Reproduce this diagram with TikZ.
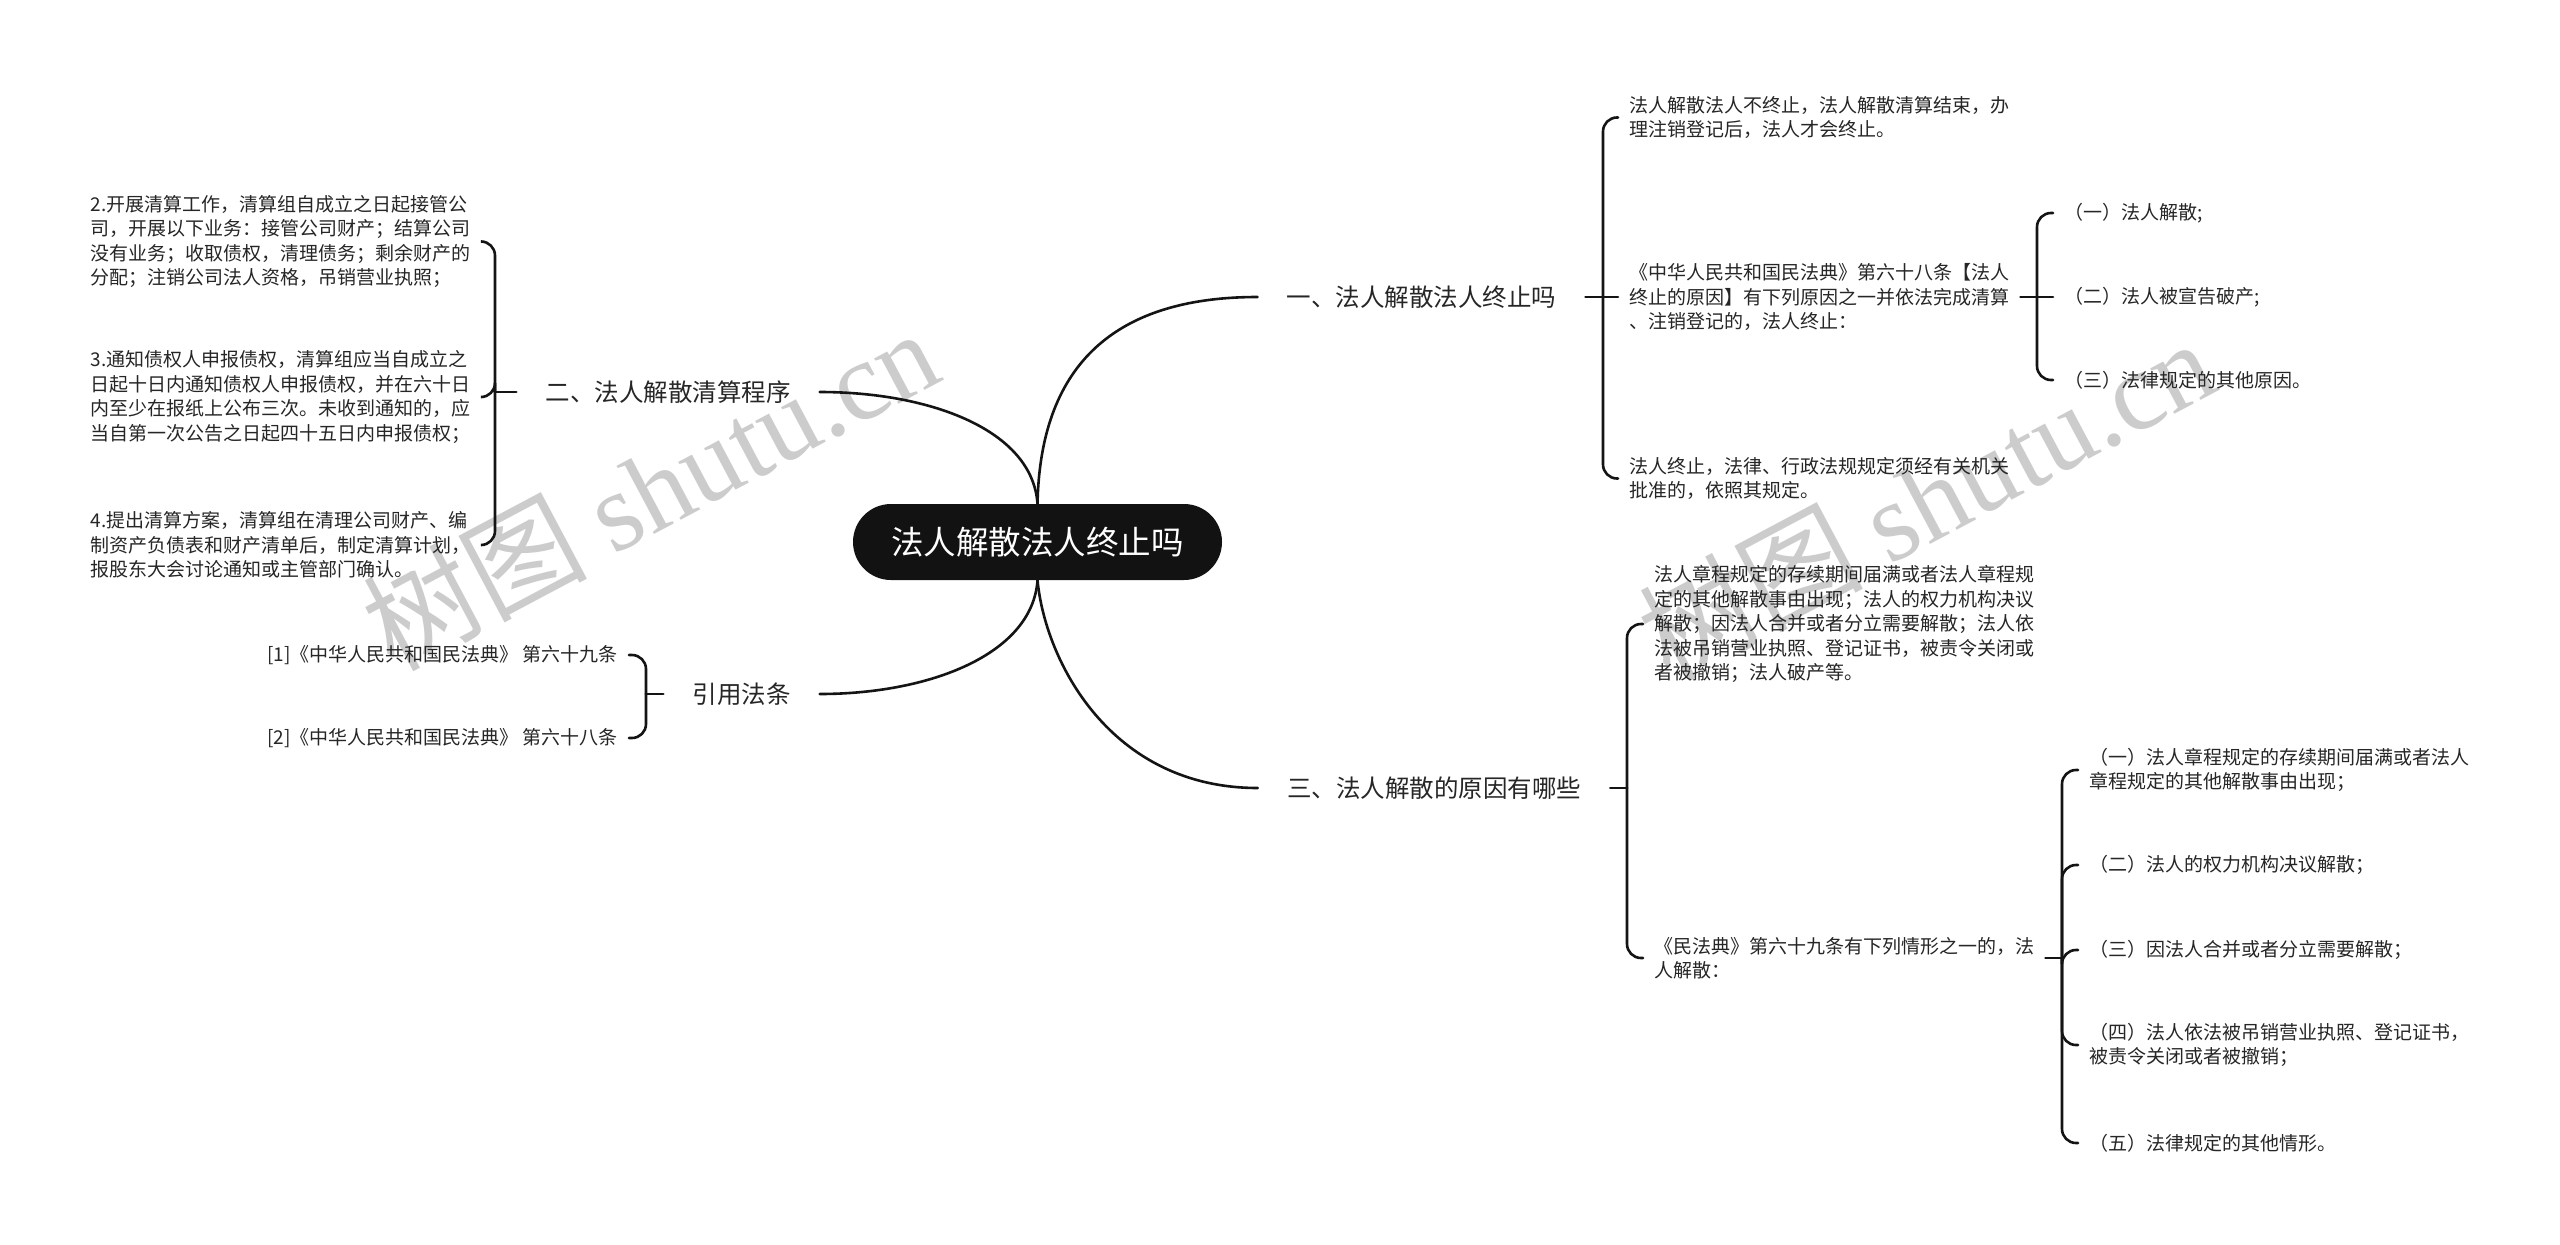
\documentclass[tikz,border=0pt]{standalone}
\usepackage{fontspec}
\setmainfont{Noto Sans CJK SC}
\newfontfamily\wmserif{Liberation Serif}
\usetikzlibrary{calc}
\tikzset{
  conn/.style={line width=2.6pt, draw=black!92, line cap=round},
  brk/.style={conn, rounded corners=14pt},
  branch/.style={font=\fontsize{24.5}{30}\selectfont, inner xsep=29pt, inner ysep=4pt, text=black!85},
  leaf/.style={font=\fontsize{19}{24.5}\selectfont, inner xsep=11pt, inner ysep=0pt, align=left, text=black!85},
  leafr/.style={leaf, align=right},
  rootnode/.style={fill=black!93, text=white, rounded corners=38pt, minimum width=369pt, minimum height=76pt, inner sep=0pt, font=\fontsize{32.5}{38}\selectfont},
  wm/.style={text=black!20, rotate=28, inner sep=0pt, font=\fontsize{112}{120}\selectfont}
}
\begin{document}
\begin{tikzpicture}[x=1pt,y=-1pt]
\useasboundingbox (0,0) rectangle (2560,1245);
\fill[white] (0,0) rectangle (2560,1245);
% watermarks
\node[wm] (wm1) at (650,488) {树图 {\wmserif shutu.cn}};
\node[wm] (wm2) at (1926,498) {树图 {\wmserif shutu.cn}};
% root
\node[rootnode] (root) at (1037.5,542) {法人解散法人终止吗};
% branches
\node[branch] (b1) at (1421.5,297) {一、法人解散法人终止吗};
\node[branch] (b2) at (668,392) {二、法人解散清算程序};
\node[branch] (b3) at (1434,788) {三、法人解散的原因有哪些};
\node[branch] (b4) at (741.5,694) {引用法条};
% branch 1 leaves
\node[leaf, anchor=west] (t1a) at (1618,117.5) {法人解散法人不终止，法人解散清算结束，办\\理注销登记后，法人才会终止。};
\node[leaf, anchor=west] (t1b) at (1618,297) {《中华人民共和国民法典》第六十八条【法人\\终止的原因】有下列原因之一并依法完成清算\\、注销登记的，法人终止：};
\node[leaf, anchor=west] (t1c) at (1618,478.5) {法人终止，法律、行政法规规定须经有关机关\\批准的，依照其规定。};
\node[leaf, anchor=west] (s1) at (2053,213) {（一）法人解散;};
\node[leaf, anchor=west] (s2) at (2053,297) {（二）法人被宣告破产;};
\node[leaf, anchor=west] (s3) at (2053,380) {（三）法律规定的其他原因。};
% branch 3 leaves
\node[leaf, anchor=west] (t3a) at (1643,624) {法人章程规定的存续期间届满或者法人章程规\\定的其他解散事由出现；法人的权力机构决议\\解散；因法人合并或者分立需要解散；法人依\\法被吊销营业执照、登记证书，被责令关闭或\\者被撤销；法人破产等。};
\node[leaf, anchor=west] (t3b) at (1643,958) {《民法典》第六十九条有下列情形之一的，法\\人解散：};
\node[leaf, anchor=west] (u1) at (2078,770) {（一）法人章程规定的存续期间届满或者法人\\章程规定的其他解散事由出现；};
\node[leaf, anchor=west] (u2) at (2078,865) {（二）法人的权力机构决议解散；};
\node[leaf, anchor=west] (u3) at (2078,950) {（三）因法人合并或者分立需要解散；};
\node[leaf, anchor=west] (u4) at (2078,1045) {（四）法人依法被吊销营业执照、登记证书，\\被责令关闭或者被撤销；};
\node[leaf, anchor=west] (u5) at (2078,1143) {（五）法律规定的其他情形。};
% branch 2 leaves
\node[leaf, anchor=east] (l2) at (482,241.5) {2.开展清算工作，清算组自成立之日起接管公\\司，开展以下业务：接管公司财产；结算公司\\没有业务；收取债权，清理债务；剩余财产的\\分配；注销公司法人资格，吊销营业执照；};
\node[leaf, anchor=east] (l3) at (482,397) {3.通知债权人申报债权，清算组应当自成立之\\日起十日内通知债权人申报债权，并在六十日\\内至少在报纸上公布三次。未收到通知的，应\\当自第一次公告之日起四十五日内申报债权；};
\node[leaf, anchor=east] (l4) at (482,545) {4.提出清算方案，清算组在清理公司财产、编\\制资产负债表和财产清单后，制定清算计划，\\报股东大会讨论通知或主管部门确认。};
% citations
\node[leafr, anchor=east] (r1) at (629,655) {[1]《中华人民共和国民法典》 第六十九条};
\node[leafr, anchor=east] (r2) at (629,738) {[2]《中华人民共和国民法典》 第六十八条};
% junctions
\coordinate (J1) at (1603,297);
\coordinate (J1s) at (2037,297);
\coordinate (J3) at (1627,788);
\coordinate (J3s) at (2062,958);
\coordinate (J2) at (495,392);
\coordinate (J4) at (646,694);
% main curves
\draw[conn] (root.north) .. controls ($(root.north)+(2.5,-124)$) and ($(b1.west)+(-158,0)$) .. (b1.west);
\draw[conn] (root.north) .. controls ($(root.north)+(-5,-74)$) and ($(b2.east)+(110,0)$) .. (b2.east);
\draw[conn] (root.south) .. controls ($(root.south)+(7.5,80)$) and ($(b3.west)+(-148,0)$) .. (b3.west);
\draw[conn] (root.south) .. controls ($(root.south)+(-5,74)$) and ($(b4.east)+(110,0)$) .. (b4.east);
% branch 1 brackets
\draw[conn] (b1.east) -- (J1);
\draw[brk] (J1) |- (t1a.west);
\draw[brk] (J1) -- (t1b.west);
\draw[brk] (J1) |- (t1c.west);
\draw[conn] (t1b.east) -- (J1s);
\draw[brk] (J1s) |- (s1.west);
\draw[brk] (J1s) -- (s2.west);
\draw[brk] (J1s) |- (s3.west);
% branch 3 brackets
\draw[conn] (b3.east) -- (J3);
\draw[brk] (J3) |- (t3a.west);
\draw[brk] (J3) |- (t3b.west);
\draw[conn] (t3b.east) -- (J3s);
\draw[brk] (J3s) |- (u1.west);
\draw[brk] (J3s) |- (u2.west);
\draw[brk] (J3s) |- (u3.west);
\draw[brk] (J3s) |- (u4.west);
\draw[brk] (J3s) |- (u5.west);
% branch 2 brackets
\draw[conn] (b2.west) -- (J2);
\draw[brk] (J2) |- (l2.east);
\draw[brk] (J2) |- (l3.east);
\draw[brk] (J2) |- (l4.east);
% citations bracket
\draw[conn] (b4.west) -- (J4);
\draw[brk] (J4) |- (r1.east);
\draw[brk] (J4) |- (r2.east);
\end{tikzpicture}
\end{document}
